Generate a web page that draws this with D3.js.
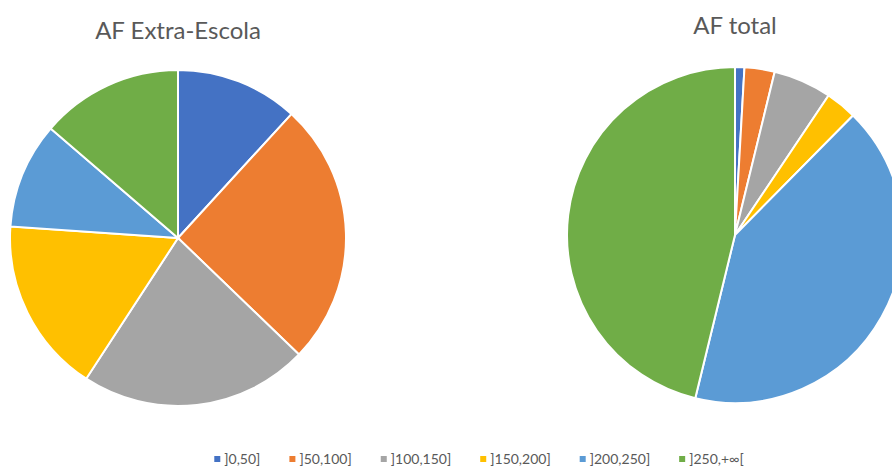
<html>
<head>
<meta charset="utf-8">
<title>AF</title>
<style>
body { margin: 0; background: white; font-family: Lato, "Open Sans", sans-serif; }
svg { display: block; }
.title { fill: #595959; font-size: 24px; text-anchor: middle; }
.legend text { fill: #595959; font-size: 14px; }
.slice { stroke: white; stroke-width: 2px; }
</style>
</head>
<body>
<svg id="chart" width="892" height="466"></svg>
<script src="https://cdn.jsdelivr.net/npm/d3@7"></script>
<script>

var categories = ["]0,50]", "]50,100]", "]100,150]", "]150,200]", "]200,250]", "]250,+∞["];
var colors = ["#4472C4", "#ED7D31", "#A5A5A5", "#FFC000", "#5B9BD5", "#70AD47"];

// percentages
var extraEscola = [11.8, 25.4, 22.0, 16.9, 10.2, 13.7];
var afTotal = [0.9, 2.9, 5.6, 3.0, 41.4, 46.2];

var pies = [
	{title: "AF Extra-Escola", values: extraEscola, cx: 178, cy: 238, r: 168, ty: 39},
	{title: "AF total", values: afTotal, cx: 735, cy: 235, r: 168, ty: 34}
];

var svg = d3.select("#chart");

var color = d3.scaleOrdinal()
	.domain(categories)
	.range(colors);

var pie = d3.pie()
	.sort(null)
	.value(function(d) { return d.value; });

pies.forEach(function(p) {
	var data = categories.map(function(c, i) { return {cat: c, value: p.values[i]}; });
	var arc = d3.arc().innerRadius(0).outerRadius(p.r);

	var g = svg.append("g")
		.attr("transform", "translate(" + p.cx + "," + p.cy + ")");

	g.selectAll("path")
		.data(pie(data))
	  .enter().append("path")
		.attr("class", "slice")
		.attr("fill", function(d) { return color(d.data.cat); })
		.attr("d", arc);

	svg.append("text")
		.attr("class", "title")
		.attr("x", p.cx)
		.attr("y", p.ty)
		.text(p.title);
});

// legend, laid out from text widths and centred
var gap = 29;
var legend = svg.append("g").attr("class", "legend");
var items = legend.selectAll("g")
	.data(categories)
  .enter().append("g");

items.append("rect")
	.attr("width", 6).attr("height", 6)
	.attr("y", -8)
	.attr("fill", function(d) { return color(d); });

items.append("text")
	.attr("x", 10)
	.attr("y", 0)
	.text(function(d) { return d; });

var xpos = 0;
items.each(function() {
	var w = d3.select(this).select("text").node().getComputedTextLength() + 10;
	d3.select(this).attr("transform", "translate(" + xpos + ",0)");
	xpos += w + gap;
});
var total = xpos - gap;
legend.attr("transform", "translate(" + (479 - total / 2) + ",464)");

</script>
</body>
</html>
